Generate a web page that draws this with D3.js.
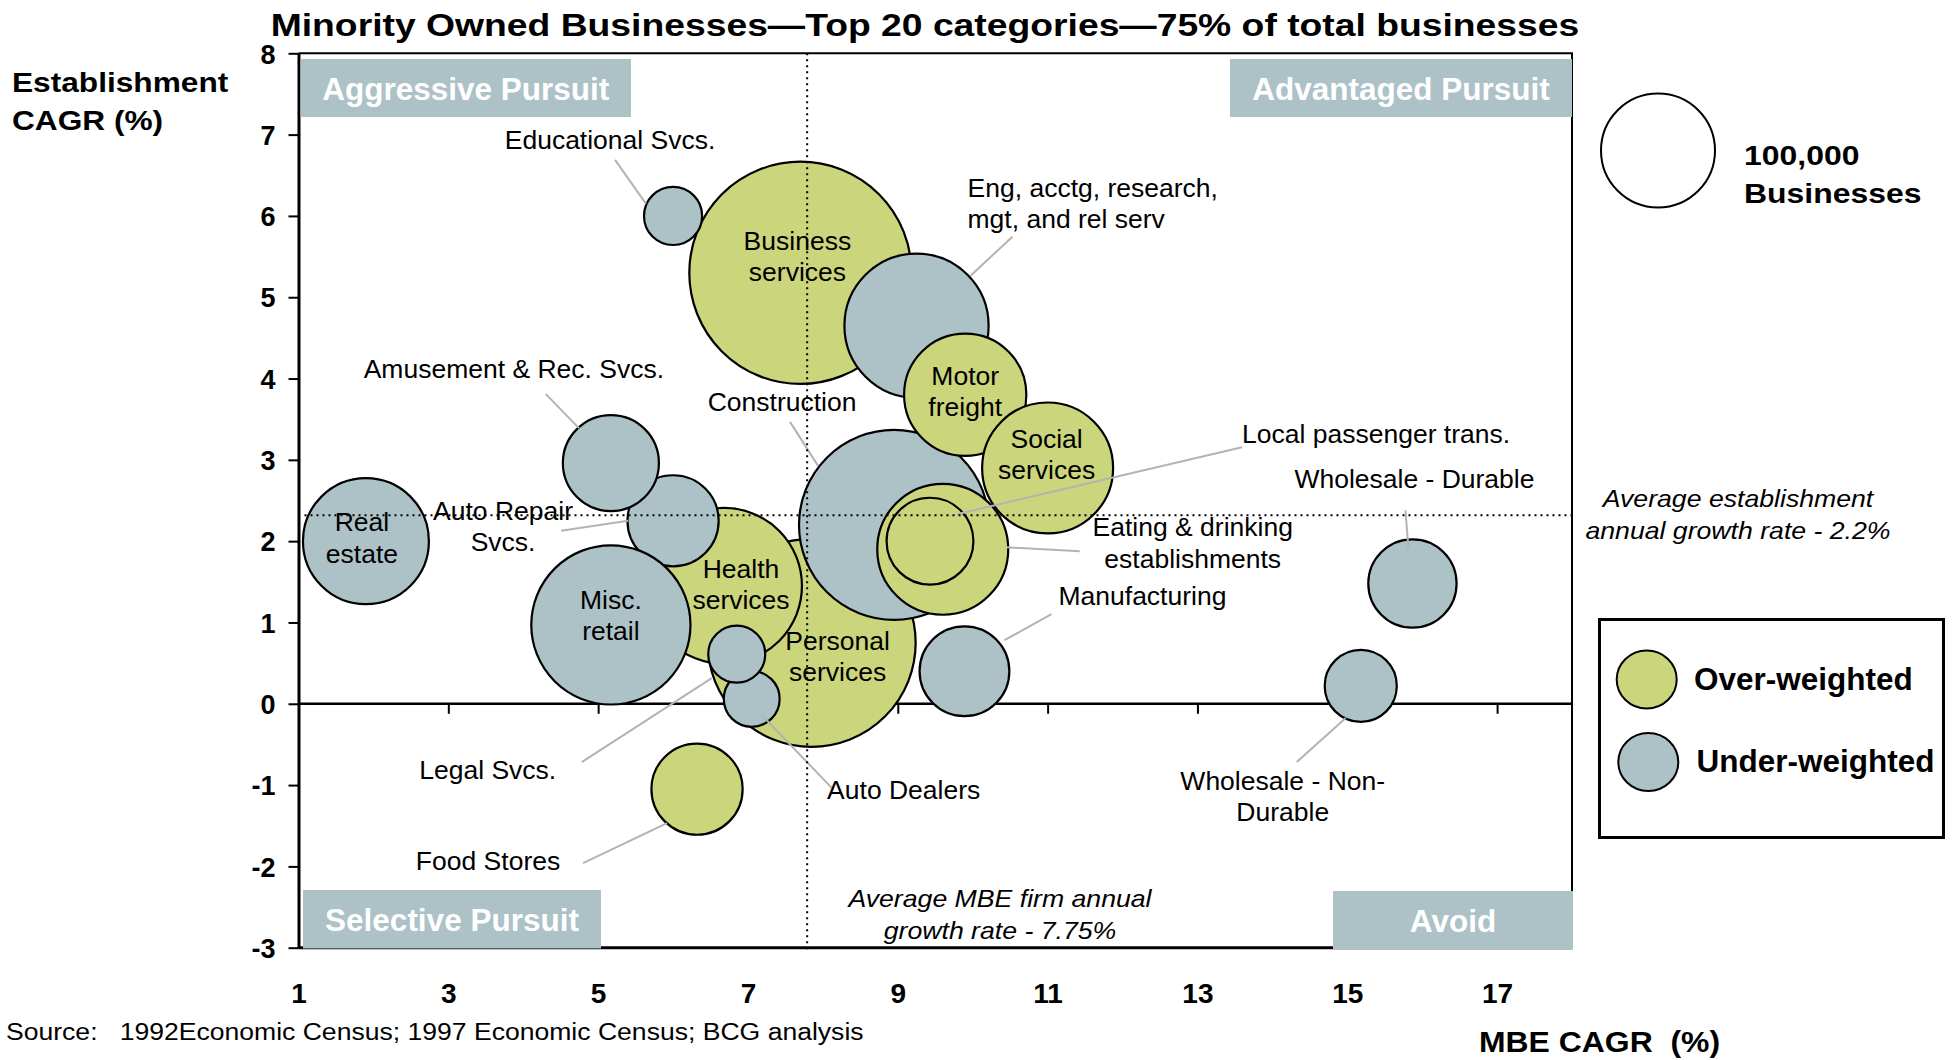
<!DOCTYPE html>
<html>
<head>
<meta charset="utf-8">
<script src="https://cdn.jsdelivr.net/npm/d3@7"></script>
<style>
body { margin: 0; background: #fff; }
svg { font-family: "Liberation Sans", Arial, sans-serif; }
</style>
</head>
<body>
<svg id="chart" width="1955" height="1060"></svg>
<script>
// data, listed in drawing order (later ones sit on top)
const categories = ["Personal services", "Health services", "Auto Repair Svcs.", "Misc. retail",
  "Auto Dealers", "Legal Svcs.", "Amusement & Rec. Svcs.", "Real estate", "Business services",
  "Educational Svcs.", "Eng, acctg, research, mgt, and rel serv", "Construction", "Motor freight",
  "Social services", "Eating & drinking establishments", "Local passenger trans.", "Manufacturing",
  "Food Stores", "Wholesale - Durable", "Wholesale - Non-Durable"];
const mbeCagr = [7.85, 6.68, 6.0, 5.17, 7.05, 6.85, 5.17, 1.9, 7.7, 6.0, 9.25, 8.95, 9.9,
  11.0, 9.6, 9.43, 9.89, 6.32, 15.87, 15.18];
const estCagr = [0.75, 1.45, 2.25, 0.97, 0.06, 0.61, 2.96, 2.0, 5.3, 6.0, 4.65, 2.2, 3.8,
  2.9, 1.9, 2.0, 0.40, -1.05, 1.48, 0.22];
const businesses = [333000, 187000, 64000, 195000, 24000, 25000, 71000, 122000, 380000,
  26000, 160000, 278000, 115000, 132000, 132000, 58000, 62000, 64000, 60000, 40000];
const weighting = ["over", "over", "under", "under", "under", "under", "under", "under", "over",
  "under", "under", "under", "over", "over", "over", "over", "under", "over", "under", "under"];

const xTicks = [1, 3, 5, 7, 9, 11, 13, 15, 17];
const yTicks = [-3, -2, -1, 0, 1, 2, 3, 4, 5, 6, 7, 8];
const avgMbe = 7.79;      // where the dotted line sits
const avgEst = 2.32;
const legendSize = 100000;

const colors = { over: "#cbd57b", under: "#adc2c7" };

// label layout: offsets from bubble centre (px)
const labelLayout = {
  "Business services": { lines: ["Business", "services"], dx: -3, dy: -23 },
  "Health services": { lines: ["Health", "services"], dx: 17, dy: -8 },
  "Misc. retail": { lines: ["Misc.", "retail"], dx: 0, dy: -16 },
  "Personal services": { lines: ["Personal", "services"], dx: 26, dy: 7 },
  "Motor freight": { lines: ["Motor", "freight"], dx: 0, dy: -10 },
  "Social services": { lines: ["Social", "services"], dx: -1, dy: -20 },
  "Real estate": { lines: ["Real", "estate"], dx: -4, dy: -10 },
  "Educational Svcs.": { lines: ["Educational Svcs."], dx: -63, dy: -67, leader: [-58, -56, -27, -12] },
  "Eng, acctg, research, mgt, and rel serv": { lines: ["Eng, acctg, research,", "mgt, and rel serv"], anchor: "start", dx: 51, dy: -129, leader: [96, -89, 54, -50] },
  "Amusement & Rec. Svcs.": { lines: ["Amusement & Rec. Svcs."], dx: -97, dy: -85, leader: [-65, -69, -32, -35] },
  "Construction": { lines: ["Construction"], dx: -112, dy: -114, leader: [-104, -103, -76, -59] },
  "Auto Repair Svcs.": { lines: ["Auto Repair", "Svcs."], dx: -170, dy: -1, leader: [-112, 10, -45, 0] },
  "Local passenger trans.": { lines: ["Local passenger trans."], anchor: "start", dx: 312, dy: -98, leader: [312, -94, 27, -27] },
  "Wholesale - Durable": { lines: ["Wholesale - Durable"], dx: 2, dy: -95, leader: [-7, -73, -4, -35] },
  "Eating & drinking establishments": { lines: ["Eating & drinking", "establishments"], dx: 250, dy: -13, leader: [137, 2, 64, -2] },
  "Manufacturing": { lines: ["Manufacturing"], dx: 178, dy: -66, leader: [87, -57, 40, -31] },
  "Legal Svcs.": { lines: ["Legal Svcs."], dx: -249, dy: 125, leader: [-155, 108, -25, 24] },
  "Food Stores": { lines: ["Food Stores"], dx: -209, dy: 81, leader: [-114, 74, -30, 34] },
  "Auto Dealers": { lines: ["Auto Dealers"], dx: 152, dy: 100, leader: [80, 89, 10, 16] },
  "Wholesale - Non-Durable": { lines: ["Wholesale - Non-", "Durable"], dx: -78, dy: 104, leader: [-64, 76, -15, 32] }
};

const svg = d3.select("#chart");
const plotLeft = 298.5, plotRight = 1572, plotTop = 53.3, plotBottom = 947.7;

const x = d3.scaleLinear().domain([1, 18]).range([plotLeft, plotRight]);
const y = d3.scaleLinear().domain([-3, 8]).range([plotBottom, plotTop]);
const r = d3.scaleSqrt().domain([0, 100000]).range([0, 57]);

const bubbles = categories.map((c, i) => ({
  name: c, mbe: mbeCagr[i], est: estCagr[i], n: businesses[i], w: weighting[i]
}));

// the original artwork was stretched sideways a little, so widen text to match
function stretch(sel, k) {
  sel.each(function() {
    const w = this.getComputedTextLength();
    d3.select(this).attr("textLength", w * k).attr("lengthAdjust", "spacingAndGlyphs");
  });
  return sel;
}

// one <text> per line so each can be stretched
function textLines(parent, lines, x0, y0, lh, size, opts) {
  opts = opts || {};
  const sel = parent.selectAll(null).data(lines).enter().append("text")
    .attr("x", x0).attr("y", (d, i) => y0 + i * lh)
    .attr("text-anchor", opts.anchor || "start")
    .attr("fill", opts.fill || "#000")
    .style("font-size", size + "px")
    .style("font-weight", opts.bold ? "bold" : null)
    .style("font-style", opts.italic ? "italic" : null)
    .style("white-space", "pre")
    .text(d => d);
  if (opts.k) stretch(sel, opts.k);
  return sel;
}

// title
textLines(svg, ["Minority Owned Businesses\u2014Top 20 categories\u201475% of total businesses"],
  925, 36, 0, 32, { anchor: "middle", bold: true, k: 1.165 });

// y axis title
textLines(svg, ["Establishment", "CAGR (%)"], 12, 92, 38, 28, { bold: true, k: 1.13 });

// frame: top and right
svg.append("path")
  .attr("d", `M${plotLeft},${plotTop}H${plotRight}V${plotBottom}`)
  .attr("fill", "none").attr("stroke", "#000").attr("stroke-width", 2);
svg.append("line")
  .attr("x1", plotLeft).attr("x2", plotRight).attr("y1", plotBottom).attr("y2", plotBottom)
  .attr("stroke", "#000").attr("stroke-width", 3);

// zero line with ticks
svg.append("line")
  .attr("x1", plotLeft).attr("x2", plotRight).attr("y1", y(0)).attr("y2", y(0))
  .attr("stroke", "#000").attr("stroke-width", 2.5);
const xAxisZero = svg.append("g")
  .attr("transform", `translate(0,${y(0)})`)
  .call(d3.axisBottom(x).tickValues(xTicks.slice(1)).tickSize(10).tickFormat(""));
xAxisZero.select(".domain").remove();
xAxisZero.selectAll(".tick line").attr("stroke-width", 2);

// x labels at the bottom
const xAxis = svg.append("g")
  .attr("transform", `translate(0,${plotBottom})`)
  .call(d3.axisBottom(x).tickValues(xTicks).tickSize(0).tickPadding(35));
xAxis.select(".domain").remove();
xAxis.selectAll("text")
  .style("font-size", "28px").style("font-weight", "bold")
  .style("font-family", "'Liberation Sans', Arial, sans-serif").attr("fill", "#000");

// y axis (plain hyphen for negatives, as in the original)
const yAxis = svg.append("g")
  .attr("transform", `translate(${plotLeft},0)`)
  .call(d3.axisLeft(y).tickValues(yTicks).tickFormat(d => String(d))
    .tickSize(10).tickSizeOuter(0).tickPadding(13));
yAxis.select(".domain").attr("stroke-width", 3);
yAxis.selectAll(".tick line").attr("stroke-width", 2);
yAxis.selectAll("text")
  .style("font-size", "27px").style("font-weight", "bold")
  .style("font-family", "'Liberation Sans', Arial, sans-serif").attr("fill", "#000")
  .attr("dy", "0.36em");

// quadrant boxes
const quadrants = [
  { text: "Aggressive Pursuit", x0: 300.5, x1: 631, y0: 59, y1: 117 },
  { text: "Advantaged Pursuit", x0: 1230, x1: 1572, y0: 59, y1: 117 },
  { text: "Selective Pursuit", x0: 303, x1: 601, y0: 890, y1: 948.5 },
  { text: "Avoid", x0: 1333, x1: 1573, y0: 891, y1: 949.5 }
];
const qg = svg.append("g");
qg.selectAll("rect").data(quadrants).enter().append("rect")
  .attr("x", d => d.x0).attr("y", d => d.y0)
  .attr("width", d => d.x1 - d.x0).attr("height", d => d.y1 - d.y0)
  .attr("fill", colors.under);
qg.selectAll("text").data(quadrants).enter().append("text")
  .attr("x", d => (d.x0 + d.x1) / 2).attr("y", d => d.y0 + 40.5)
  .attr("text-anchor", "middle").attr("fill", "#fff")
  .style("font-size", "31.5px").style("font-weight", "bold")
  .text(d => d.text);

const labelled = bubbles.map(b => ({ b: b, l: labelLayout[b.name] }));

// bubbles
svg.append("g").selectAll("circle")
  .data(bubbles).enter().append("circle")
  .attr("cx", d => x(d.mbe)).attr("cy", d => y(d.est))
  .attr("r", d => r(d.n))
  .attr("fill", d => colors[d.w])
  .attr("stroke", "#000").attr("stroke-width", 2.2);

// leader lines
svg.append("g").selectAll("line")
  .data(labelled.filter(d => d.l.leader)).enter().append("line")
  .attr("x1", d => x(d.b.mbe) + d.l.leader[0]).attr("y1", d => y(d.b.est) + d.l.leader[1])
  .attr("x2", d => x(d.b.mbe) + d.l.leader[2]).attr("y2", d => y(d.b.est) + d.l.leader[3])
  .attr("stroke", "#b3b3b3").attr("stroke-width", 2);

// average lines (dotted)
svg.append("line")
  .attr("x1", x(avgMbe)).attr("x2", x(avgMbe)).attr("y1", plotTop).attr("y2", plotBottom + 3)
  .attr("stroke", "#000").attr("stroke-width", 2).attr("stroke-dasharray", "2,4");
svg.append("line")
  .attr("x1", plotLeft + 6).attr("x2", plotRight).attr("y1", y(avgEst)).attr("y2", y(avgEst))
  .attr("stroke", "#000").attr("stroke-width", 2).attr("stroke-dasharray", "2,4");

// category labels
const lg = svg.append("g");
labelled.forEach(d => {
  textLines(lg, d.l.lines, x(d.b.mbe) + d.l.dx, y(d.b.est) + d.l.dy, 31.5, 25,
    { anchor: d.l.anchor || "middle", k: 1.06 });
});

// average annotations
textLines(svg, ["Average establishment", "annual growth rate - 2.2%"], 1738, 507, 31.5, 24,
  { anchor: "middle", italic: true, k: 1.11 });
textLines(svg, ["Average MBE firm annual", "growth rate - 7.75%"], 1000, 907, 31.5, 24,
  { anchor: "middle", italic: true, k: 1.11 });

// size legend
svg.append("circle")
  .attr("cx", 1658).attr("cy", 150.5).attr("r", r(legendSize))
  .attr("fill", "#fff").attr("stroke", "#000").attr("stroke-width", 2);
textLines(svg, ["100,000", "Businesses"], 1744, 165, 38, 28, { bold: true, k: 1.14 });

// colour legend
svg.append("rect")
  .attr("x", 1599.5).attr("y", 619.5).attr("width", 344).attr("height", 218)
  .attr("fill", "#fff").attr("stroke", "#000").attr("stroke-width", 3);
const legendItems = [
  { key: "over", label: "Over-weighted", cy: 679.5, cx: 1646.7, tx: 1694, ty: 690 },
  { key: "under", label: "Under-weighted", cy: 762, cx: 1648.3, tx: 1696.5, ty: 771.5 }
];
const li = svg.append("g").selectAll("g").data(legendItems).enter().append("g");
li.append("ellipse")
  .attr("cx", d => d.cx).attr("cy", d => d.cy).attr("rx", 30).attr("ry", 29)
  .attr("fill", d => colors[d.key]).attr("stroke", "#000").attr("stroke-width", 2);
li.append("text")
  .attr("x", d => d.tx).attr("y", d => d.ty)
  .style("font-size", "31.5px").style("font-weight", "bold")
  .text(d => d.label);

// x axis title and source
textLines(svg, ["MBE CAGR  (%)"], 1479, 1052, 0, 29, { bold: true, k: 1.1 });
textLines(svg, ["Source:   1992Economic Census; 1997 Economic Census; BCG analysis"], 6, 1040, 0, 23.5, { k: 1.13 });
</script>
</body>
</html>
